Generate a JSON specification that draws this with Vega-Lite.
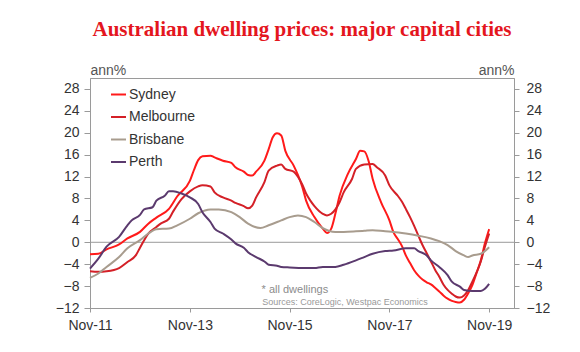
{
  "$schema": "https://vega.github.io/schema/vega-lite/v6.json",
  "width": 424,
  "height": 230,
  "autosize": {"type": "none"},
  "padding": {"left": 90, "top": 78, "right": 66, "bottom": 44},
  "background": "white",
  "title": {
    "text": "Australian dwelling prices: major capital cities",
    "font": "Liberation Serif",
    "fontSize": 21,
    "fontWeight": "bold",
    "color": "#E4161E",
    "anchor": "middle",
    "frame": "group",
    "baseline": "alphabetic",
    "offset": 6
  },
  "config": {
    "view": {"stroke": "#9a9a9a", "strokeWidth": 1},
    "font": "Liberation Sans",
    "axis": {
      "labelFont": "Liberation Sans",
      "labelFontSize": 14,
      "labelColor": "#333333",
      "tickColor": "#9a9a9a",
      "domainColor": "#9a9a9a",
      "grid": false
    }
  },
  "layer": [
    {
      "data": {"values": [{"v": 0}]},
      "mark": {"type": "rule", "color": "#9a9a9a", "strokeWidth": 1},
      "encoding": {
        "y": {
          "field": "v",
          "type": "quantitative",
          "scale": {"domain": [-12, 30], "nice": false},
          "axis": {
            "orient": "right",
            "values": [-12, -8, -4, 0, 4, 8, 12, 16, 20, 24, 28],
            "tickSize": 5,
            "labelPadding": 7,
            "title": "ann%",
            "titleAngle": 0,
            "titleAlign": "right",
            "titleBaseline": "alphabetic",
            "titleX": 0,
            "titleY": -4,
            "titleFont": "Liberation Sans",
            "titleFontSize": 14,
            "titleFontWeight": "normal",
            "titleColor": "#555555"
          }
        }
      }
    },
    {
      "data": {"values": [
        {"city": "Sydney", "date": "2011-11-01", "value": -2.2},
        {"city": "Sydney", "date": "2012-01-01", "value": -2.1},
        {"city": "Sydney", "date": "2012-03-01", "value": -1.3},
        {"city": "Sydney", "date": "2012-06-01", "value": -0.4},
        {"city": "Sydney", "date": "2012-08-01", "value": 0.7},
        {"city": "Sydney", "date": "2012-11-01", "value": 1.9},
        {"city": "Sydney", "date": "2013-01-01", "value": 3.4},
        {"city": "Sydney", "date": "2013-03-01", "value": 4.5},
        {"city": "Sydney", "date": "2013-06-01", "value": 6.1},
        {"city": "Sydney", "date": "2013-08-01", "value": 8.4},
        {"city": "Sydney", "date": "2013-11-01", "value": 11.2},
        {"city": "Sydney", "date": "2013-12-01", "value": 13.2},
        {"city": "Sydney", "date": "2014-01-01", "value": 15.0},
        {"city": "Sydney", "date": "2014-02-01", "value": 15.7},
        {"city": "Sydney", "date": "2014-04-01", "value": 15.8},
        {"city": "Sydney", "date": "2014-05-01", "value": 15.5},
        {"city": "Sydney", "date": "2014-07-01", "value": 14.9},
        {"city": "Sydney", "date": "2014-09-01", "value": 14.5},
        {"city": "Sydney", "date": "2014-10-01", "value": 13.7},
        {"city": "Sydney", "date": "2014-12-01", "value": 12.9},
        {"city": "Sydney", "date": "2015-01-01", "value": 12.3},
        {"city": "Sydney", "date": "2015-02-01", "value": 12.2},
        {"city": "Sydney", "date": "2015-03-01", "value": 12.9},
        {"city": "Sydney", "date": "2015-05-01", "value": 14.9},
        {"city": "Sydney", "date": "2015-06-01", "value": 17.0},
        {"city": "Sydney", "date": "2015-07-01", "value": 19.2},
        {"city": "Sydney", "date": "2015-08-01", "value": 19.9},
        {"city": "Sydney", "date": "2015-09-01", "value": 19.5},
        {"city": "Sydney", "date": "2015-10-01", "value": 16.7},
        {"city": "Sydney", "date": "2015-12-01", "value": 14.0},
        {"city": "Sydney", "date": "2016-01-01", "value": 12.3},
        {"city": "Sydney", "date": "2016-02-01", "value": 10.2},
        {"city": "Sydney", "date": "2016-03-01", "value": 7.6},
        {"city": "Sydney", "date": "2016-05-01", "value": 4.6},
        {"city": "Sydney", "date": "2016-07-01", "value": 2.5},
        {"city": "Sydney", "date": "2016-08-01", "value": 1.7},
        {"city": "Sydney", "date": "2016-09-01", "value": 2.5},
        {"city": "Sydney", "date": "2016-10-01", "value": 5.2},
        {"city": "Sydney", "date": "2016-11-01", "value": 8.5},
        {"city": "Sydney", "date": "2017-01-01", "value": 12.5},
        {"city": "Sydney", "date": "2017-03-01", "value": 15.2},
        {"city": "Sydney", "date": "2017-04-01", "value": 16.7},
        {"city": "Sydney", "date": "2017-05-01", "value": 16.6},
        {"city": "Sydney", "date": "2017-06-01", "value": 14.9},
        {"city": "Sydney", "date": "2017-07-01", "value": 11.6},
        {"city": "Sydney", "date": "2017-09-01", "value": 7.3},
        {"city": "Sydney", "date": "2017-11-01", "value": 4.0},
        {"city": "Sydney", "date": "2017-12-01", "value": 1.8},
        {"city": "Sydney", "date": "2018-01-01", "value": 0.6},
        {"city": "Sydney", "date": "2018-02-01", "value": -0.7},
        {"city": "Sydney", "date": "2018-03-01", "value": -2.4},
        {"city": "Sydney", "date": "2018-04-01", "value": -3.8},
        {"city": "Sydney", "date": "2018-05-01", "value": -5.1},
        {"city": "Sydney", "date": "2018-06-01", "value": -6.1},
        {"city": "Sydney", "date": "2018-07-01", "value": -6.8},
        {"city": "Sydney", "date": "2018-08-01", "value": -7.3},
        {"city": "Sydney", "date": "2018-09-01", "value": -7.7},
        {"city": "Sydney", "date": "2018-10-01", "value": -8.3},
        {"city": "Sydney", "date": "2018-11-01", "value": -9.0},
        {"city": "Sydney", "date": "2018-12-01", "value": -9.7},
        {"city": "Sydney", "date": "2019-01-01", "value": -10.3},
        {"city": "Sydney", "date": "2019-02-01", "value": -10.7},
        {"city": "Sydney", "date": "2019-03-01", "value": -10.9},
        {"city": "Sydney", "date": "2019-04-01", "value": -11.0},
        {"city": "Sydney", "date": "2019-05-01", "value": -10.5},
        {"city": "Sydney", "date": "2019-06-01", "value": -9.3},
        {"city": "Sydney", "date": "2019-07-01", "value": -7.8},
        {"city": "Sydney", "date": "2019-08-01", "value": -5.6},
        {"city": "Sydney", "date": "2019-09-01", "value": -3.3},
        {"city": "Sydney", "date": "2019-10-01", "value": -0.2},
        {"city": "Sydney", "date": "2019-11-01", "value": 2.4},

        {"city": "Melbourne", "date": "2011-11-01", "value": -5.3},
        {"city": "Melbourne", "date": "2012-01-01", "value": -5.4},
        {"city": "Melbourne", "date": "2012-03-01", "value": -5.3},
        {"city": "Melbourne", "date": "2012-06-01", "value": -4.7},
        {"city": "Melbourne", "date": "2012-08-01", "value": -3.6},
        {"city": "Melbourne", "date": "2012-10-01", "value": -2.4},
        {"city": "Melbourne", "date": "2012-11-01", "value": -1.0},
        {"city": "Melbourne", "date": "2013-01-01", "value": 1.6},
        {"city": "Melbourne", "date": "2013-03-01", "value": 2.8},
        {"city": "Melbourne", "date": "2013-04-01", "value": 3.4},
        {"city": "Melbourne", "date": "2013-06-01", "value": 4.3},
        {"city": "Melbourne", "date": "2013-07-01", "value": 5.6},
        {"city": "Melbourne", "date": "2013-09-01", "value": 7.9},
        {"city": "Melbourne", "date": "2013-11-01", "value": 9.3},
        {"city": "Melbourne", "date": "2014-01-01", "value": 10.2},
        {"city": "Melbourne", "date": "2014-02-01", "value": 10.4},
        {"city": "Melbourne", "date": "2014-04-01", "value": 10.2},
        {"city": "Melbourne", "date": "2014-05-01", "value": 9.1},
        {"city": "Melbourne", "date": "2014-07-01", "value": 8.2},
        {"city": "Melbourne", "date": "2014-09-01", "value": 7.6},
        {"city": "Melbourne", "date": "2014-10-01", "value": 7.2},
        {"city": "Melbourne", "date": "2014-12-01", "value": 6.6},
        {"city": "Melbourne", "date": "2015-01-01", "value": 6.2},
        {"city": "Melbourne", "date": "2015-02-01", "value": 6.7},
        {"city": "Melbourne", "date": "2015-03-01", "value": 8.2},
        {"city": "Melbourne", "date": "2015-05-01", "value": 11.0},
        {"city": "Melbourne", "date": "2015-06-01", "value": 13.1},
        {"city": "Melbourne", "date": "2015-08-01", "value": 14.0},
        {"city": "Melbourne", "date": "2015-09-01", "value": 14.2},
        {"city": "Melbourne", "date": "2015-10-01", "value": 13.4},
        {"city": "Melbourne", "date": "2015-12-01", "value": 12.9},
        {"city": "Melbourne", "date": "2016-01-01", "value": 12.0},
        {"city": "Melbourne", "date": "2016-02-01", "value": 10.6},
        {"city": "Melbourne", "date": "2016-03-01", "value": 8.9},
        {"city": "Melbourne", "date": "2016-04-01", "value": 7.6},
        {"city": "Melbourne", "date": "2016-05-01", "value": 6.6},
        {"city": "Melbourne", "date": "2016-07-01", "value": 5.2},
        {"city": "Melbourne", "date": "2016-08-01", "value": 4.9},
        {"city": "Melbourne", "date": "2016-09-01", "value": 5.2},
        {"city": "Melbourne", "date": "2016-11-01", "value": 7.3},
        {"city": "Melbourne", "date": "2016-12-01", "value": 9.1},
        {"city": "Melbourne", "date": "2017-02-01", "value": 11.6},
        {"city": "Melbourne", "date": "2017-03-01", "value": 13.4},
        {"city": "Melbourne", "date": "2017-05-01", "value": 14.2},
        {"city": "Melbourne", "date": "2017-07-01", "value": 14.3},
        {"city": "Melbourne", "date": "2017-08-01", "value": 13.7},
        {"city": "Melbourne", "date": "2017-10-01", "value": 12.2},
        {"city": "Melbourne", "date": "2017-11-01", "value": 10.4},
        {"city": "Melbourne", "date": "2018-01-01", "value": 8.5},
        {"city": "Melbourne", "date": "2018-02-01", "value": 7.4},
        {"city": "Melbourne", "date": "2018-03-01", "value": 6.1},
        {"city": "Melbourne", "date": "2018-04-01", "value": 4.6},
        {"city": "Melbourne", "date": "2018-05-01", "value": 3.0},
        {"city": "Melbourne", "date": "2018-06-01", "value": 1.2},
        {"city": "Melbourne", "date": "2018-07-01", "value": -0.5},
        {"city": "Melbourne", "date": "2018-08-01", "value": -2.0},
        {"city": "Melbourne", "date": "2018-09-01", "value": -3.5},
        {"city": "Melbourne", "date": "2018-10-01", "value": -5.0},
        {"city": "Melbourne", "date": "2018-11-01", "value": -6.3},
        {"city": "Melbourne", "date": "2018-12-01", "value": -7.7},
        {"city": "Melbourne", "date": "2019-01-01", "value": -8.7},
        {"city": "Melbourne", "date": "2019-02-01", "value": -9.4},
        {"city": "Melbourne", "date": "2019-03-01", "value": -9.9},
        {"city": "Melbourne", "date": "2019-04-01", "value": -10.1},
        {"city": "Melbourne", "date": "2019-05-01", "value": -9.7},
        {"city": "Melbourne", "date": "2019-06-01", "value": -8.7},
        {"city": "Melbourne", "date": "2019-07-01", "value": -7.2},
        {"city": "Melbourne", "date": "2019-08-01", "value": -5.5},
        {"city": "Melbourne", "date": "2019-09-01", "value": -3.5},
        {"city": "Melbourne", "date": "2019-10-01", "value": -0.8},
        {"city": "Melbourne", "date": "2019-11-01", "value": 1.6},

        {"city": "Brisbane", "date": "2011-11-01", "value": -6.5},
        {"city": "Brisbane", "date": "2012-01-01", "value": -5.7},
        {"city": "Brisbane", "date": "2012-03-01", "value": -4.5},
        {"city": "Brisbane", "date": "2012-06-01", "value": -2.7},
        {"city": "Brisbane", "date": "2012-08-01", "value": -1.1},
        {"city": "Brisbane", "date": "2012-11-01", "value": 0.4},
        {"city": "Brisbane", "date": "2013-01-01", "value": 1.6},
        {"city": "Brisbane", "date": "2013-03-01", "value": 2.4},
        {"city": "Brisbane", "date": "2013-06-01", "value": 2.5},
        {"city": "Brisbane", "date": "2013-08-01", "value": 3.1},
        {"city": "Brisbane", "date": "2013-11-01", "value": 4.3},
        {"city": "Brisbane", "date": "2014-01-01", "value": 5.3},
        {"city": "Brisbane", "date": "2014-04-01", "value": 6.0},
        {"city": "Brisbane", "date": "2014-06-01", "value": 6.0},
        {"city": "Brisbane", "date": "2014-09-01", "value": 5.5},
        {"city": "Brisbane", "date": "2014-11-01", "value": 4.6},
        {"city": "Brisbane", "date": "2015-01-01", "value": 3.4},
        {"city": "Brisbane", "date": "2015-04-01", "value": 2.6},
        {"city": "Brisbane", "date": "2015-06-01", "value": 3.1},
        {"city": "Brisbane", "date": "2015-09-01", "value": 4.0},
        {"city": "Brisbane", "date": "2015-11-01", "value": 4.6},
        {"city": "Brisbane", "date": "2016-01-01", "value": 4.9},
        {"city": "Brisbane", "date": "2016-03-01", "value": 4.6},
        {"city": "Brisbane", "date": "2016-05-01", "value": 3.7},
        {"city": "Brisbane", "date": "2016-07-01", "value": 2.6},
        {"city": "Brisbane", "date": "2016-10-01", "value": 1.9},
        {"city": "Brisbane", "date": "2016-12-01", "value": 1.9},
        {"city": "Brisbane", "date": "2017-03-01", "value": 2.0},
        {"city": "Brisbane", "date": "2017-05-01", "value": 2.1},
        {"city": "Brisbane", "date": "2017-07-01", "value": 2.2},
        {"city": "Brisbane", "date": "2017-10-01", "value": 2.0},
        {"city": "Brisbane", "date": "2017-12-01", "value": 1.9},
        {"city": "Brisbane", "date": "2018-03-01", "value": 1.6},
        {"city": "Brisbane", "date": "2018-06-01", "value": 1.2},
        {"city": "Brisbane", "date": "2018-09-01", "value": 0.7},
        {"city": "Brisbane", "date": "2018-11-01", "value": 0.2},
        {"city": "Brisbane", "date": "2019-01-01", "value": -0.5},
        {"city": "Brisbane", "date": "2019-03-01", "value": -1.6},
        {"city": "Brisbane", "date": "2019-05-01", "value": -2.4},
        {"city": "Brisbane", "date": "2019-06-01", "value": -2.7},
        {"city": "Brisbane", "date": "2019-07-01", "value": -2.4},
        {"city": "Brisbane", "date": "2019-09-01", "value": -2.1},
        {"city": "Brisbane", "date": "2019-11-01", "value": -0.9},

        {"city": "Perth", "date": "2011-11-01", "value": -4.8},
        {"city": "Perth", "date": "2012-01-01", "value": -3.0},
        {"city": "Perth", "date": "2012-03-01", "value": -0.8},
        {"city": "Perth", "date": "2012-06-01", "value": 1.0},
        {"city": "Perth", "date": "2012-08-01", "value": 3.1},
        {"city": "Perth", "date": "2012-09-01", "value": 4.0},
        {"city": "Perth", "date": "2012-11-01", "value": 5.0},
        {"city": "Perth", "date": "2012-12-01", "value": 6.0},
        {"city": "Perth", "date": "2013-02-01", "value": 6.4},
        {"city": "Perth", "date": "2013-03-01", "value": 7.6},
        {"city": "Perth", "date": "2013-05-01", "value": 8.5},
        {"city": "Perth", "date": "2013-06-01", "value": 9.3},
        {"city": "Perth", "date": "2013-07-01", "value": 9.3},
        {"city": "Perth", "date": "2013-09-01", "value": 8.9},
        {"city": "Perth", "date": "2013-11-01", "value": 8.2},
        {"city": "Perth", "date": "2014-01-01", "value": 7.0},
        {"city": "Perth", "date": "2014-02-01", "value": 5.5},
        {"city": "Perth", "date": "2014-04-01", "value": 3.7},
        {"city": "Perth", "date": "2014-05-01", "value": 2.5},
        {"city": "Perth", "date": "2014-07-01", "value": 1.6},
        {"city": "Perth", "date": "2014-09-01", "value": 0.5},
        {"city": "Perth", "date": "2014-10-01", "value": -0.2},
        {"city": "Perth", "date": "2014-12-01", "value": -1.0},
        {"city": "Perth", "date": "2015-01-01", "value": -1.8},
        {"city": "Perth", "date": "2015-03-01", "value": -2.7},
        {"city": "Perth", "date": "2015-05-01", "value": -3.5},
        {"city": "Perth", "date": "2015-06-01", "value": -4.1},
        {"city": "Perth", "date": "2015-08-01", "value": -4.3},
        {"city": "Perth", "date": "2015-09-01", "value": -4.5},
        {"city": "Perth", "date": "2015-11-01", "value": -4.6},
        {"city": "Perth", "date": "2016-03-01", "value": -4.7},
        {"city": "Perth", "date": "2016-05-01", "value": -4.7},
        {"city": "Perth", "date": "2016-07-01", "value": -4.5},
        {"city": "Perth", "date": "2016-10-01", "value": -4.5},
        {"city": "Perth", "date": "2016-12-01", "value": -4.1},
        {"city": "Perth", "date": "2017-03-01", "value": -3.3},
        {"city": "Perth", "date": "2017-05-01", "value": -2.7},
        {"city": "Perth", "date": "2017-07-01", "value": -2.1},
        {"city": "Perth", "date": "2017-10-01", "value": -1.6},
        {"city": "Perth", "date": "2017-12-01", "value": -1.5},
        {"city": "Perth", "date": "2018-03-01", "value": -1.1},
        {"city": "Perth", "date": "2018-05-01", "value": -1.1},
        {"city": "Perth", "date": "2018-06-01", "value": -1.6},
        {"city": "Perth", "date": "2018-08-01", "value": -2.4},
        {"city": "Perth", "date": "2018-09-01", "value": -3.3},
        {"city": "Perth", "date": "2018-11-01", "value": -4.5},
        {"city": "Perth", "date": "2019-01-01", "value": -6.0},
        {"city": "Perth", "date": "2019-02-01", "value": -7.2},
        {"city": "Perth", "date": "2019-04-01", "value": -8.1},
        {"city": "Perth", "date": "2019-05-01", "value": -8.7},
        {"city": "Perth", "date": "2019-07-01", "value": -8.9},
        {"city": "Perth", "date": "2019-09-01", "value": -8.9},
        {"city": "Perth", "date": "2019-10-01", "value": -8.5},
        {"city": "Perth", "date": "2019-11-01", "value": -7.6}
      ]},
      "mark": {"type": "line", "strokeWidth": 2, "interpolate": "monotone"},
      "encoding": {
        "x": {
          "field": "date",
          "type": "temporal",
          "scale": {"domain": [{"year": 2011, "month": 11, "date": 1}, {"year": 2020, "month": 5, "date": 1}]},
          "axis": {
            "values": [
              {"year": 2011, "month": 11, "date": 1},
              {"year": 2013, "month": 11, "date": 1},
              {"year": 2015, "month": 11, "date": 1},
              {"year": 2017, "month": 11, "date": 1},
              {"year": 2019, "month": 11, "date": 1}
            ],
            "format": "%b-%y",
            "tickSize": 4,
            "labelPadding": 6,
            "title": null,
            "labelFlush": false,
            "labelOverlap": false
          }
        },
        "y": {
          "field": "value",
          "type": "quantitative",
          "scale": {"domain": [-12, 30], "nice": false},
          "axis": {
            "orient": "left",
            "values": [-12, -8, -4, 0, 4, 8, 12, 16, 20, 24, 28],
            "tickSize": 6,
            "labelPadding": 5,
            "title": "ann%",
            "titleAngle": 0,
            "titleAlign": "left",
            "titleBaseline": "alphabetic",
            "titleX": 0,
            "titleY": -4,
            "titleFont": "Liberation Sans",
            "titleFontSize": 14,
            "titleFontWeight": "normal",
            "titleColor": "#555555"
          }
        },
        "color": {
          "field": "city",
          "type": "nominal",
          "scale": {
            "domain": ["Sydney", "Melbourne", "Brisbane", "Perth"],
            "range": ["#FF1A1A", "#D42027", "#A89C8E", "#5B3A6E"]
          },
          "legend": {
            "orient": "none",
            "legendX": 20,
            "legendY": 8,
            "title": null,
            "symbolType": "stroke",
            "symbolSize": 225,
            "symbolStrokeWidth": 2,
            "labelFont": "Liberation Sans",
            "labelFontSize": 14,
            "labelColor": "#333333",
            "labelOffset": 2,
            "rowPadding": 6.5,
            "padding": 0
          }
        }
      }
    },
    {
      "data": {"values": [{"label": "* all dwellings", "date": "2015-04-10", "value": -8.8}]},
      "mark": {"type": "text", "align": "left", "baseline": "middle", "fontSize": 11, "color": "#8c8c8c", "font": "Liberation Sans"},
      "encoding": {
        "x": {"field": "date", "type": "temporal"},
        "y": {"field": "value", "type": "quantitative", "axis": null},
        "text": {"field": "label"}
      }
    },
    {
      "data": {"values": [{"label": "Sources: CoreLogic, Westpac Economics", "date": "2015-04-15", "value": -10.9}]},
      "mark": {"type": "text", "align": "left", "baseline": "middle", "fontSize": 9, "color": "#999999", "font": "Liberation Sans"},
      "encoding": {
        "x": {"field": "date", "type": "temporal"},
        "y": {"field": "value", "type": "quantitative", "axis": null},
        "text": {"field": "label"}
      }
    }
  ],
  "resolve": {"axis": {"y": "independent"}}
}
